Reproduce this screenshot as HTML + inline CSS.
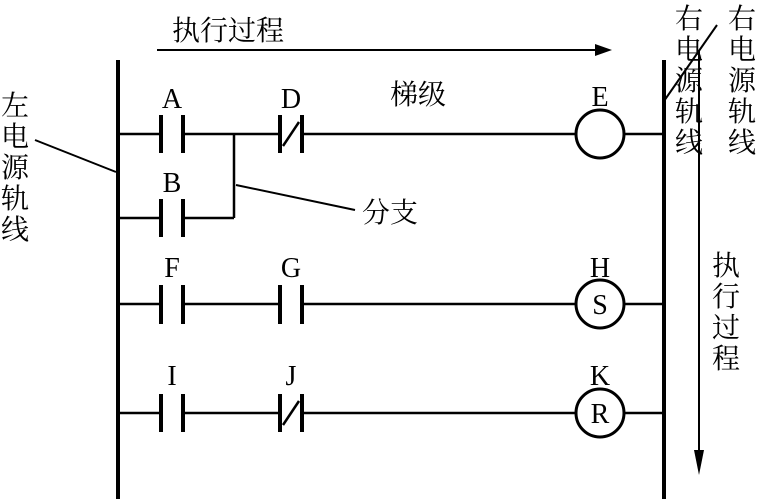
<!DOCTYPE html>
<html><head><meta charset="utf-8"><style>
html,body{margin:0;padding:0;background:#fff}
svg{display:block}
.l{font-family:"Liberation Serif",serif;font-size:28px;fill:#000}
.c{font-family:"Liberation Serif","Noto Serif CJK SC",serif;font-size:28px;fill:#000}
</style></head><body>
<svg width="759" height="499" viewBox="0 0 759 499" xmlns="http://www.w3.org/2000/svg">
<g stroke="#000" fill="none">
<line x1="118" y1="60" x2="118" y2="499" stroke-width="4"/>
<line x1="664" y1="60" x2="664" y2="499" stroke-width="4"/>
<line x1="157" y1="50" x2="595" y2="50" stroke-width="2"/>
<line x1="118" y1="134" x2="161" y2="134" stroke-width="2.5"/>
<line x1="183" y1="134" x2="280" y2="134" stroke-width="2.5"/>
<line x1="302" y1="134" x2="575" y2="134" stroke-width="2.5"/>
<line x1="625" y1="134" x2="664" y2="134" stroke-width="2.5"/>
<circle cx="600" cy="134" r="24" stroke-width="3"/>
<line x1="118" y1="218" x2="161" y2="218" stroke-width="2.5"/>
<line x1="183" y1="218" x2="234" y2="218" stroke-width="2.5"/>
<line x1="234" y1="134" x2="234" y2="218" stroke-width="2.5"/>
<line x1="118" y1="304" x2="161" y2="304" stroke-width="2.5"/>
<line x1="183" y1="304" x2="280" y2="304" stroke-width="2.5"/>
<line x1="302" y1="304" x2="575" y2="304" stroke-width="2.5"/>
<line x1="625" y1="304" x2="664" y2="304" stroke-width="2.5"/>
<circle cx="600" cy="304" r="24" stroke-width="3"/>
<line x1="118" y1="413" x2="161" y2="413" stroke-width="2.5"/>
<line x1="183" y1="413" x2="280" y2="413" stroke-width="2.5"/>
<line x1="302" y1="413" x2="575" y2="413" stroke-width="2.5"/>
<line x1="625" y1="413" x2="664" y2="413" stroke-width="2.5"/>
<circle cx="600" cy="413" r="24" stroke-width="3"/>
<g stroke-width="4">
<line x1="161" y1="115" x2="161" y2="153"/><line x1="183" y1="115" x2="183" y2="153"/>
<line x1="280" y1="115" x2="280" y2="153"/><line x1="302" y1="115" x2="302" y2="153"/>
<line x1="161" y1="199" x2="161" y2="237"/><line x1="183" y1="199" x2="183" y2="237"/>
<line x1="161" y1="285" x2="161" y2="324"/><line x1="183" y1="285" x2="183" y2="324"/>
<line x1="280" y1="285" x2="280" y2="324"/><line x1="302" y1="285" x2="302" y2="324"/>
<line x1="161" y1="394" x2="161" y2="432"/><line x1="183" y1="394" x2="183" y2="432"/>
<line x1="280" y1="394" x2="280" y2="432"/><line x1="302" y1="394" x2="302" y2="432"/>
</g>
<line x1="283" y1="146" x2="299" y2="122" stroke-width="2.5"/>
<line x1="283" y1="425" x2="299" y2="401" stroke-width="2.5"/>
<line x1="35" y1="140" x2="116" y2="172" stroke-width="2"/>
<line x1="236" y1="185" x2="355" y2="210" stroke-width="2"/>
<line x1="664" y1="101" x2="717" y2="25" stroke-width="2"/>
<line x1="699" y1="50" x2="699" y2="460" stroke-width="2"/>
</g>
<polygon points="595,44 612,50 595,56" fill="#000"/>
<polygon points="694,450 699,475 704,450" fill="#000"/>
<text class="l" x="172" y="108" text-anchor="middle">A</text>
<text class="l" x="291" y="108" text-anchor="middle">D</text>
<text class="l" x="600" y="106" text-anchor="middle">E</text>
<text class="l" x="172" y="192" text-anchor="middle">B</text>
<text class="l" x="172" y="277" text-anchor="middle">F</text>
<text class="l" x="291" y="277" text-anchor="middle">G</text>
<text class="l" x="600" y="277" text-anchor="middle">H</text>
<text class="l" x="600" y="314" text-anchor="middle">S</text>
<text class="l" x="172" y="385" text-anchor="middle">I</text>
<text class="l" x="291" y="385" text-anchor="middle">J</text>
<text class="l" x="600" y="385" text-anchor="middle">K</text>
<text class="l" x="600" y="423" text-anchor="middle">R</text>
<text class="c" x="172" y="40">执行过程</text>
<text class="c" x="390" y="104">梯级</text>
<text class="c" x="362" y="222">分支</text>
<g class="c">
<text x="1" y="115">左</text><text x="1" y="146">电</text><text x="1" y="177">源</text><text x="1" y="208">轨</text><text x="1" y="239">线</text>
<text x="675" y="28">右</text><text x="675" y="59">电</text><text x="675" y="90">源</text><text x="675" y="121">轨</text><text x="675" y="152">线</text>
<text x="728" y="28">右</text><text x="728" y="59">电</text><text x="728" y="90">源</text><text x="728" y="121">轨</text><text x="728" y="152">线</text>
<text x="712" y="275">执</text><text x="712" y="306">行</text><text x="712" y="337">过</text><text x="712" y="368">程</text>
</g>
</svg>
</body></html>
